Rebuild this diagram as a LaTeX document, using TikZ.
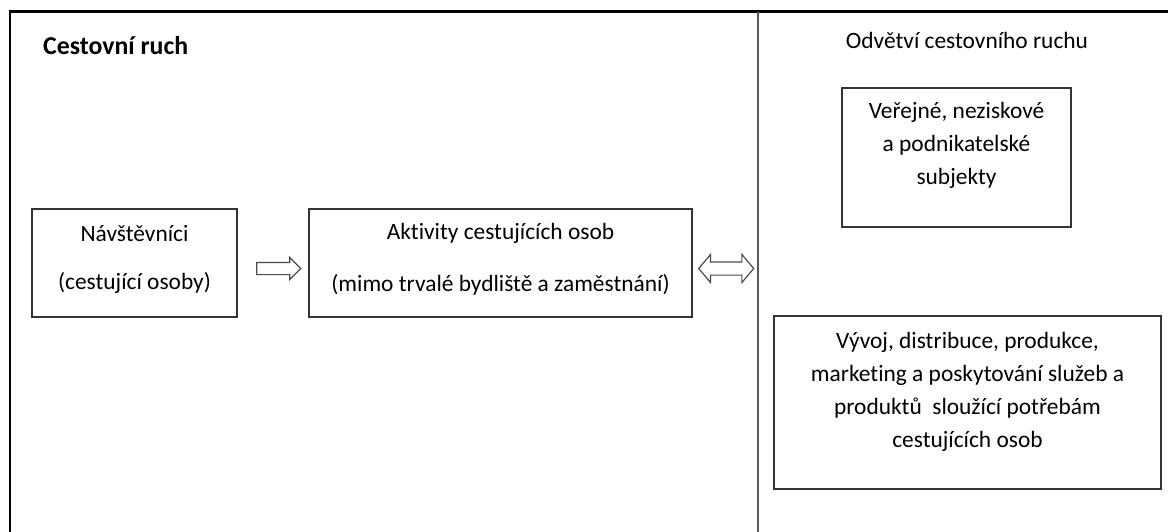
\documentclass[tikz,border=0pt]{standalone}
\usepackage{fontspec}
\setmainfont{Carlito}[Ligatures={NoCommon}]
\usetikzlibrary{shapes.arrows,calc}

\begin{document}
\begin{tikzpicture}[x=1pt, y=-1pt,
  box/.style={draw=black!80, line width=1.4pt, inner sep=0pt},
  txt/.style={align=center, anchor=base, inner sep=0pt, font=\fontsize{23.4}{33}\selectfont},
  fatarrow/.style={single arrow, draw=black!70, line width=1.2pt, inner xsep=0pt, inner ysep=5.5pt,
    single arrow head extend=5pt, single arrow head indent=0pt, minimum height=44pt},
  dblarrow/.style={double arrow, draw=black!70, line width=1.2pt, inner xsep=0pt, inner ysep=6pt,
    double arrow head extend=7.5pt, double arrow head indent=0pt, double arrow tip angle=100, minimum height=55pt}]
  \useasboundingbox[fill=white] (0,0) rectangle (1168,532);
  % outer frame and split between the two halves
  \draw[line width=2.5pt] (1168,11.5) -- (10,11.5) -- (10,532);
  \coordinate (divtop) at (758,12);
  \coordinate (divbot) at (758,532);
  \draw[black!65, line width=1.6pt] (divtop) -- (divbot);
  % headings
  \node[anchor=base west, inner sep=0pt, font=\fontsize{25.8}{30}\selectfont\bfseries] (title) at (43,55) {Cestovní ruch};
  \node[txt] (branch) at (967,49) {Odvětví cestovního ruchu};
  % left side: visitors -> their activities (base = last line)
  \node[box, minimum width=205pt, minimum height=108pt] (vis) at (134.5,263) {};
  \node[txt] (vistxt) at ([yshift=-81pt]vis.north) {Návštěvníci\\[15pt](cestující osoby)};
  \node[box, minimum width=383pt, minimum height=108pt] (act) at (500.5,263) {};
  \node[txt] (acttxt) at ([yshift=-83pt]act.north) {Aktivity cestujících osob\\[19pt](mimo trvalé bydliště a zaměstnání)};
  \node[fatarrow] (a1) at ([shift={(38,5.5)}]vis.east) {};
  \node[dblarrow] (a2) at ([shift={(33.5,5.5)}]act.east) {};
  % right side: the branch itself
  \node[box, minimum width=229pt, minimum height=139pt] (pub) at (956.5,157.5) {};
  \node[txt] (pubtxt) at ([yshift=-97pt]pub.north) {Veřejné, neziskové\\a podnikatelské\\subjekty};
  \node[box, minimum width=387pt, minimum height=173pt] (dev) at (967.5,402.5) {};
  \node[txt] (devtxt) at ([yshift=-132pt]dev.north) {Vývoj, distribuce, produkce,\\marketing a poskytování služeb a\\produktů\ \ sloužící potřebám\\cestujících osob};
\end{tikzpicture}
\end{document}
